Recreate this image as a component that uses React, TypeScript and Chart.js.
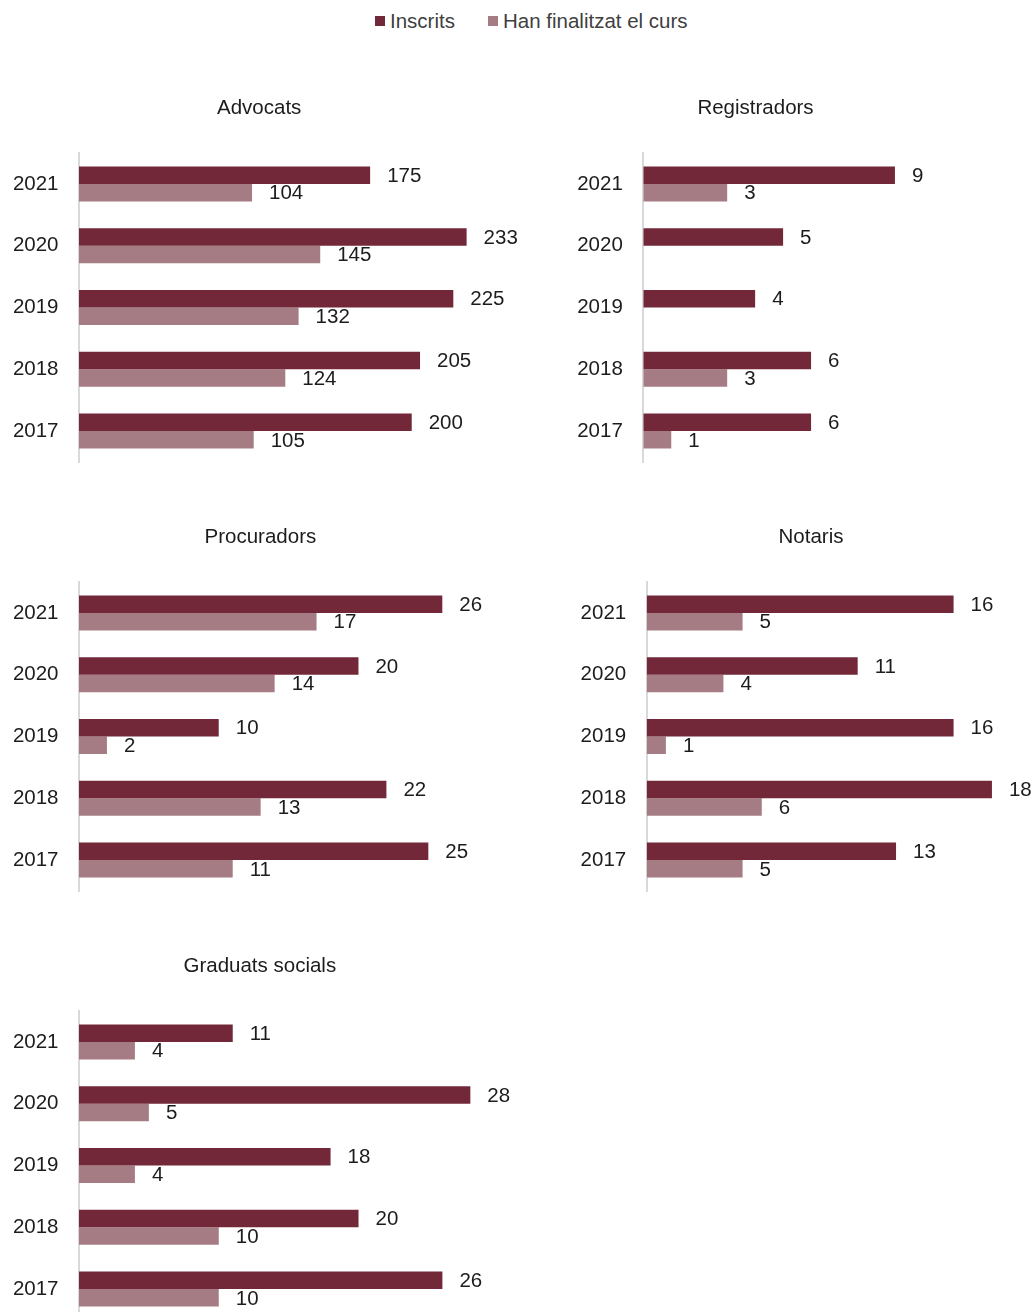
import React, { useEffect, useRef } from 'react';
import { Chart, registerables } from 'chart.js';

Chart.register(...registerables);

// Years shown on every panel, top to bottom
const YEARS = ['2021', '2020', '2019', '2018', '2017'];
const SERIES_NAMES = ['Inscrits', 'Han finalitzat el curs'];

const ADVOCATS_INSCRITS = [175, 233, 225, 205, 200];
const ADVOCATS_FINALITZAT = [104, 145, 132, 124, 105];

const REGISTRADORS_INSCRITS = [9, 5, 4, 6, 6];
const REGISTRADORS_FINALITZAT = [3, null, null, 3, 1];

const PROCURADORS_INSCRITS = [26, 20, 10, 22, 25];
const PROCURADORS_FINALITZAT = [17, 14, 2, 13, 11];

const NOTARIS_INSCRITS = [16, 11, 16, 18, 13];
const NOTARIS_FINALITZAT = [5, 4, 1, 6, 5];

const GRADUATS_INSCRITS = [11, 28, 18, 20, 26];
const GRADUATS_FINALITZAT = [4, 5, 4, 10, 10];

const PANEL_TITLES = ['Advocats', 'Registradors', 'Procuradors', 'Notaris', 'Graduats socials'];
const AXIS_MAX = [250, 10, 30, 20, 30];

const DARK = '#722839';
const LIGHT = '#A67C84';
const TEXT = '#1c1c1c';
const LEGEND_TEXT = '#404040';
const AXIS_LINE = '#D9D9D9';
const FONT = '"Liberation Sans", Arial, Helvetica, sans-serif';
const FONT_SIZE = 20.5;

// Canvas placement of each panel: position, size, y-axis width, right padding, title centre
type Box = { x: number; y: number; w: number; h: number; yw: number; pr: number; titleX: number };
const TITLE_BAND = 57;
const BOXES: Box[] = [
  { x: 0, y: 96, w: 520, h: 368, yw: 79, pr: 25.1, titleX: 259.2 },
  { x: 560, y: 96, w: 474, h: 368, yw: 83.3, pr: 111.1, titleX: 755.5 },
  { x: 0, y: 525, w: 520, h: 368, yw: 79, pr: 21.8, titleX: 260.4 },
  { x: 560, y: 525, w: 474, h: 368, yw: 86.7, pr: 3.7, titleX: 811 },
  { x: 0, y: 954, w: 520, h: 368, yw: 79, pr: 21.7, titleX: 259.8 },
];

const PANEL_DATA: Array<[Array<number | null>, Array<number | null>]> = [
  [ADVOCATS_INSCRITS, ADVOCATS_FINALITZAT],
  [REGISTRADORS_INSCRITS, REGISTRADORS_FINALITZAT],
  [PROCURADORS_INSCRITS, PROCURADORS_FINALITZAT],
  [NOTARIS_INSCRITS, NOTARIS_FINALITZAT],
  [GRADUATS_INSCRITS, GRADUATS_FINALITZAT],
];

// Writes each bar's value just past its end
const valueLabels = {
  id: 'valueLabels',
  afterDatasetsDraw(chart: any) {
    const ctx = chart.ctx;
    ctx.save();
    ctx.font = `${FONT_SIZE}px ${FONT}`;
    ctx.fillStyle = TEXT;
    ctx.textAlign = 'left';
    ctx.textBaseline = 'middle';
    chart.data.datasets.forEach((ds: any, di: number) => {
      const meta = chart.getDatasetMeta(di);
      meta.data.forEach((el: any, i: number) => {
        const v = ds.data[i];
        if (v === null || v === undefined) return;
        ctx.fillText(String(v), el.x + 17, el.y + 1);
      });
    });
    ctx.restore();
  },
};

// Panel heading, centred on a given x inside the band above the plot
const panelTitle = {
  id: 'panelTitle',
  afterDraw(chart: any, _args: any, opts: any) {
    const ctx = chart.ctx;
    ctx.save();
    ctx.font = `${FONT_SIZE}px ${FONT}`;
    ctx.fillStyle = TEXT;
    ctx.textAlign = 'center';
    ctx.textBaseline = 'middle';
    ctx.fillText(opts.text, opts.x, opts.y);
    ctx.restore();
  },
};

function Panel({ index }: { index: number }) {
  const ref = useRef<HTMLCanvasElement>(null);
  const box = BOXES[index];
  useEffect(() => {
    const [inscrits, finalitzat] = PANEL_DATA[index];
    const chart = new Chart(ref.current as HTMLCanvasElement, {
      type: 'bar',
      data: {
        labels: YEARS,
        datasets: [
          {
            label: SERIES_NAMES[0],
            data: inscrits,
            backgroundColor: DARK,
            borderWidth: 0,
            categoryPercentage: 0.566,
            barPercentage: 1,
          },
          {
            label: SERIES_NAMES[1],
            data: finalitzat,
            backgroundColor: LIGHT,
            borderWidth: 0,
            categoryPercentage: 0.566,
            barPercentage: 1,
          },
        ],
      } as any,
      options: {
        indexAxis: 'y',
        responsive: false,
        animation: false,
        events: [],
        layout: { padding: { left: 0, right: box.pr, top: TITLE_BAND, bottom: 2 } },
        plugins: {
          legend: { display: false },
          tooltip: { enabled: false },
          title: { display: false },
          panelTitle: { text: PANEL_TITLES[index], x: box.titleX - box.x, y: 12 },
        },
        scales: {
          x: { display: false, min: 0, max: AXIS_MAX[index] },
          y: {
            grid: { display: false, drawTicks: false },
            border: { display: true, color: AXIS_LINE, width: 2 },
            ticks: { color: TEXT, padding: 20.5, font: { family: FONT, size: FONT_SIZE } },
            afterFit: (scale: any) => {
              scale.width = box.yw;
              scale.paddingTop = 0;
              scale.paddingBottom = 0;
            },
          },
        },
      } as any,
      plugins: [valueLabels, panelTitle],
    });
    return () => chart.destroy();
  }, [index]);
  return (
    <canvas
      ref={ref}
      width={box.w}
      height={box.h}
      style={{ position: 'absolute', left: box.x, top: box.y, width: box.w, height: box.h }}
    />
  );
}

function LegendItem({ left, color, text }: { left: number; color: string; text: string }) {
  return (
    <div
      style={{
        position: 'absolute',
        left,
        top: 9,
        height: 24,
        display: 'flex',
        alignItems: 'center',
        whiteSpace: 'nowrap',
        font: `${FONT_SIZE}px ${FONT}`,
        color: LEGEND_TEXT,
      }}
    >
      <span style={{ display: 'inline-block', width: 10, height: 10, background: color, marginRight: 5 }} />
      <span>{text}</span>
    </div>
  );
}

export default function App() {
  return (
    <div
      style={{
        position: 'absolute',
        left: 0,
        top: 0,
        width: 1034,
        height: 1312,
        overflow: 'hidden',
        background: '#ffffff',
      }}
    >
      <LegendItem left={375} color={DARK} text={SERIES_NAMES[0]} />
      <LegendItem left={488} color={LIGHT} text={SERIES_NAMES[1]} />
      {PANEL_TITLES.map((_, i) => (
        <Panel key={i} index={i} />
      ))}
    </div>
  );
}
